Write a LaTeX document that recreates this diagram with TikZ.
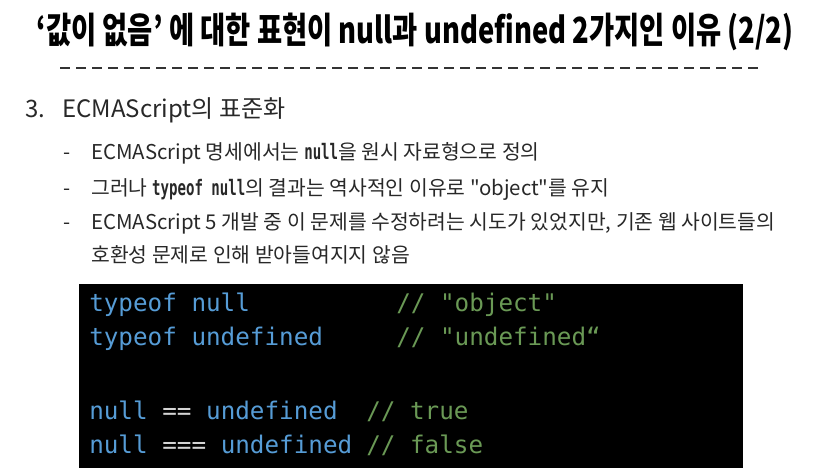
\documentclass[tikz,border=0pt]{standalone}
\usepackage{fontspec}
\setmainfont{Noto Sans CJK KR}[Ligatures=TeXOff]
\newfontfamily\titlefont[FakeStretch=0.76]{Noto Sans CJK KR}
\newfontfamily\codefont{DejaVu Sans Mono}
\newfontfamily\inlinecode[FakeStretch=0.66]{DejaVu Sans Mono}
\definecolor{bodygray}{RGB}{40,40,40}
\definecolor{codeblue}{RGB}{86,156,214}
\definecolor{codegreen}{RGB}{106,153,85}
\definecolor{codeop}{RGB}{212,212,212}
\newcommand{\ic}[1]{{\inlinecode\bfseries\fontsize{16}{18}\selectfont #1}}

\begin{document}
\begin{tikzpicture}[x=0.75pt,y=0.75pt,yscale=-1,xscale=1,
  body/.style={anchor=base west,inner sep=0.75pt,text=bodygray,font=\fontsize{15.3}{18}\selectfont},
  code/.style={anchor=base west,inner sep=0.75pt,text=codeblue,font=\codefont\fontsize{18.2}{22}\selectfont},
  note/.style={code,text=codegreen}]
\useasboundingbox (0,0) rectangle (815,474);

% Text Node
\draw (415,44) node [anchor=base][inner sep=0.75pt] (title) {\titlefont\bfseries\fontsize{27}{32}\selectfont ‘값이 없음’ 에 대한 표현이 null과 undefined 2가지인 이유 (2/2)};

%Straight Lines [id:ruleline]
\coordinate (ruleL) at (60,68);
\coordinate (ruleR) at (760,68);
\draw [color=black!80][line width=1.2,dash pattern=on 7.5pt off 4.5pt] (ruleL) -- (ruleR);

% Text Node
\draw (24,118) node [body,font=\fontsize{18}{22}\selectfont] (secnum) {3.};
\draw (61,118) node [body,font=\fontsize{18}{22}\selectfont] (sectext) {ECMAScript의 표준화};

% Text Node
\draw (62,160) node [body] (dash1) {-};
\draw (90,160) node [body] (item1) {ECMAScript 명세에서는 \ic{null}을 원시 자료형으로 정의};
% Text Node
\draw (62,196) node [body] (dash2) {-};
\draw (90,196) node [body] (item2) {그러나 \ic{typeof null}의 결과는 역사적인 이유로 "object"를 유지};
% Text Node
\draw (62,230) node [body] (dash3) {-};
\draw (90,230) node [body] (item3) {ECMAScript 5 개발 중 이 문제를 수정하려는 시도가 있었지만, 기존 웹 사이트들의};
\draw (90,263) node [body] (item3b) {호환성 문제로 인해 받아들여지지 않음};

%Shape: Rectangle [id:codebox]
\fill [black] (79,284) rectangle (743,468);

% Text Node
\draw (88,312) node [code] (line1) {typeof null};
\draw (395,312) node [note] (note1) {// "object"};
\draw (88,346) node [code] (line2) {typeof undefined};
\draw (395,346) node [note] (note2) {// "undefined“};
\draw (88,419) node [code] (line3) {null \textcolor{codeop}{==} undefined};
\draw (365,419) node [note] (note3) {// true};
\draw (88,453) node [code] (line4) {null \textcolor{codeop}{===} undefined};
\draw (365,453) node [note] (note4) {// false};

\end{tikzpicture}
\end{document}
